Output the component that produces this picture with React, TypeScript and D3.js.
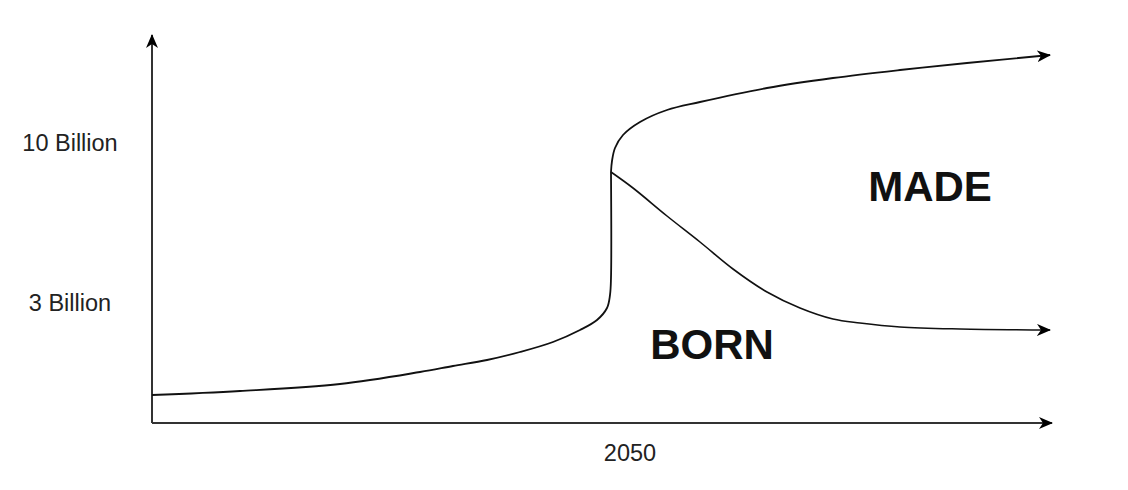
import React from "react";
import * as d3 from "d3";

// Chart data in arbitrary units (x: time index, y: population index)
const yTickLabels = ["10 Billion", "3 Billion"];
const yTickValues = [280, 120];
const xTickLabels = ["2050"];
const xTickValues = [478];

const baseX = [0, 88, 188, 268, 301, 335, 368, 401, 428, 445, 455, 458, 459, 459];
const baseY = [28, 32, 39, 51, 57, 63, 71, 81, 93, 103, 115, 128, 145, 251];

const madeX = [459, 460, 463, 471, 488, 515, 548, 615, 681, 748, 815, 898];
const madeY = [251, 262, 275, 288, 301, 313, 321, 335, 345, 353, 360, 368];

const bornX = [459, 481, 515, 548, 581, 615, 648, 681, 708, 748, 808, 898];
const bornY = [251, 235, 207, 181, 154, 131, 115, 104, 100, 96, 94, 93];

const regionLabels = ["MADE", "BORN"];
const regionX = [778, 560];
const regionY = [237, 79];

const W = 1128;
const H = 490;

export default function App() {
  const x = d3.scaleLinear().domain([0, 900]).range([152, 1052]);
  const y = d3.scaleLinear().domain([0, 388]).range([423, 35]);

  const line = d3
    .line<[number, number]>()
    .x((d) => x(d[0]))
    .y((d) => y(d[1]))
    .curve(d3.curveCatmullRom.alpha(0.5));

  const toPts = (xs: number[], ys: number[]) =>
    xs.map((v, i) => [v, ys[i]] as [number, number]);

  const base = toPts(baseX, baseY);
  const made = toPts(madeX, madeY);
  const born = toPts(bornX, bornY);

  const font = "'Liberation Sans', Arial, Helvetica, sans-serif";

  return (
    <svg
      width={W}
      height={H}
      style={{ position: "absolute", left: 0, top: 0, background: "#fff" }}
    >
      <defs>
        <marker
          id="arr"
          viewBox="0 0 14 12"
          refX="13"
          refY="6"
          markerWidth="14"
          markerHeight="12"
          markerUnits="userSpaceOnUse"
          orient="auto"
        >
          <path d="M0,0 L14,6 L0,12 L4,6 Z" fill="#000" />
        </marker>
      </defs>
      {/* axes */}
      <line
        x1={x(0)}
        y1={y(0)}
        x2={x(0)}
        y2={y(388)}
        stroke="#333"
        strokeWidth={2}
        markerEnd="url(#arr)"
      />
      <line
        x1={x(0)}
        y1={y(0)}
        x2={x(900)}
        y2={y(0)}
        stroke="#333"
        strokeWidth={2}
        markerEnd="url(#arr)"
      />
      {/* curves */}
      <path d={line(base) || ""} fill="none" stroke="#111" strokeWidth={1.8} />
      <path
        d={line(made) || ""}
        fill="none"
        stroke="#111"
        strokeWidth={1.8}
        markerEnd="url(#arr)"
      />
      <path
        d={line(born) || ""}
        fill="none"
        stroke="#111"
        strokeWidth={1.6}
        markerEnd="url(#arr)"
      />
      {/* y labels */}
      {yTickLabels.map((t, i) => (
        <text
          key={t}
          x={70}
          y={y(yTickValues[i])}
          textAnchor="middle"
          dominantBaseline="central"
          fontFamily={font}
          fontSize={23.5}
          fill="#222"
        >
          {t}
        </text>
      ))}
      {xTickLabels.map((t, i) => (
        <text
          key={t}
          x={x(xTickValues[i])}
          y={453}
          textAnchor="middle"
          dominantBaseline="central"
          fontFamily={font}
          fontSize={23.5}
          fill="#222"
        >
          {t}
        </text>
      ))}
      {regionLabels.map((t, i) => (
        <text
          key={t}
          x={x(regionX[i])}
          y={y(regionY[i])}
          textAnchor="middle"
          dominantBaseline="central"
          fontFamily={font}
          fontSize={42}
          fontWeight="bold"
          fill="#111"
        >
          {t}
        </text>
      ))}
    </svg>
  );
}
